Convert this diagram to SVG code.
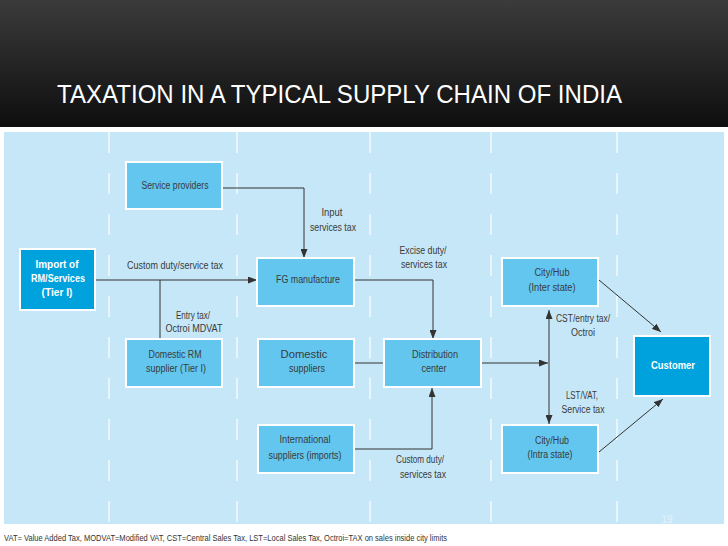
<svg xmlns="http://www.w3.org/2000/svg" width="728" height="546" viewBox="0 0 728 546">
<defs>
<linearGradient id="hdr" x1="0" y1="0" x2="0" y2="1">
<stop offset="0" stop-color="#3b3b3b"/>
<stop offset="1" stop-color="#0e0e0e"/>
</linearGradient>
<marker id="ah" markerUnits="userSpaceOnUse" markerWidth="9" markerHeight="7" refX="9" refY="3.5" orient="auto-start-reverse">
<path d="M0,0 L9,3.5 L0,7 z" fill="#333"/>
</marker>
<style>
.box{fill:#62c6ef;stroke:#fff;stroke-width:2}
.dbox{fill:#00a2de;stroke:#fff;stroke-width:2}
.t{font-family:"Liberation Sans",Arial,sans-serif;font-size:10px;fill:#3a3a3a;text-anchor:middle}
.w{font-family:"Liberation Sans",Arial,sans-serif;font-size:11px;font-weight:bold;fill:#fff;text-anchor:middle}
.c{fill:none;stroke:#333;stroke-width:1}
.a{marker-end:url(#ah)}
.dash{stroke:#fff;stroke-width:1.2;stroke-dasharray:21 20}
</style>
</defs>
<rect x="0" y="0" width="728" height="546" fill="#fff"/>
<rect x="0" y="0" width="728" height="127" fill="url(#hdr)"/>
<text x="57" y="103" font-family="Liberation Sans,Arial,sans-serif" font-size="26" fill="#fff" textLength="565" lengthAdjust="spacingAndGlyphs">TAXATION IN A TYPICAL SUPPLY CHAIN OF INDIA</text>
<rect x="4" y="132" width="720" height="392" fill="#c6e7f8"/>
<g id="gridlines">
<line class="dash" x1="109" y1="132" x2="109" y2="524"/>
<line class="dash" x1="237" y1="132" x2="237" y2="524"/>
<line class="dash" x1="370" y1="132" x2="370" y2="524"/>
<line class="dash" x1="491" y1="132" x2="491" y2="524"/>
<line class="dash" x1="617" y1="132" x2="617" y2="524"/>
</g>
<g id="connectors">
<path class="c a" d="M222,188 H304 V258"/>
<path class="c a" d="M95,280 H257"/>
<path class="c" d="M160,280 V339"/>
<path class="c a" d="M354,280 H433 V339"/>
<path class="c" d="M354,363 H384"/>
<path class="c a" d="M354,449 H432 V388"/>
<path class="c a" d="M481,363 H548"/>
<path class="c a" d="M549,310 V424" style="marker-start:url(#ah)"/>
<path class="c a" d="M599,280 L661,332"/>
<path class="c a" d="M599,452 L663,399"/>
<text class="t" x="332" y="216" textLength="21" lengthAdjust="spacingAndGlyphs">Input</text>
<text class="t" x="333" y="231" textLength="46" lengthAdjust="spacingAndGlyphs">services tax</text>
<text class="t" x="175" y="269" textLength="96" lengthAdjust="spacingAndGlyphs">Custom duty/service tax</text>
<text class="t" x="193" y="319" textLength="34" lengthAdjust="spacingAndGlyphs">Entry tax/</text>
<text class="t" x="194" y="332" textLength="57" lengthAdjust="spacingAndGlyphs">Octroi MDVAT</text>
<text class="t" x="423" y="254" textLength="47" lengthAdjust="spacingAndGlyphs">Excise duty/</text>
<text class="t" x="424" y="268" textLength="46" lengthAdjust="spacingAndGlyphs">services tax</text>
<text class="t" x="420" y="463" textLength="48" lengthAdjust="spacingAndGlyphs">Custom duty/</text>
<text class="t" x="423" y="478" textLength="46" lengthAdjust="spacingAndGlyphs">services tax</text>
<text class="t" x="583" y="322" textLength="54" lengthAdjust="spacingAndGlyphs">CST/entry tax/</text>
<text class="t" x="583" y="336" textLength="24" lengthAdjust="spacingAndGlyphs">Octroi</text>
<text class="t" x="582" y="399" textLength="32" lengthAdjust="spacingAndGlyphs">LST/VAT,</text>
<text class="t" x="583" y="413" textLength="43" lengthAdjust="spacingAndGlyphs">Service tax</text>
</g>
<g id="service-providers">
<rect class="box" x="126" y="162" width="96" height="47"/>
<text class="t" x="175" y="189" textLength="67" lengthAdjust="spacingAndGlyphs">Service providers</text>
</g>
<g id="import-rm">
<rect class="dbox" x="20" y="249" width="75" height="61"/>
<text class="w" x="57" y="268" textLength="43" lengthAdjust="spacingAndGlyphs">Import of</text>
<text class="w" x="58" y="282" textLength="54" lengthAdjust="spacingAndGlyphs">RM/Services</text>
<text class="w" x="57" y="296" textLength="31" lengthAdjust="spacingAndGlyphs">(Tier I)</text>
</g>
<g id="domestic-rm">
<rect class="box" x="126" y="339" width="96" height="48"/>
<text class="t" x="175" y="358" textLength="53" lengthAdjust="spacingAndGlyphs">Domestic RM</text>
<text class="t" x="176" y="372" textLength="60" lengthAdjust="spacingAndGlyphs">supplier (Tier I)</text>
</g>
<g id="fg-manufacture">
<rect class="box" x="257" y="258" width="97" height="48"/>
<text class="t" x="308" y="283" textLength="64" lengthAdjust="spacingAndGlyphs">FG manufacture</text>
</g>
<g id="domestic-suppliers">
<rect class="box" x="258" y="339" width="96" height="48"/>
<text class="t" x="304" y="358" textLength="47" lengthAdjust="spacingAndGlyphs">Domestic</text>
<text class="t" x="307" y="372" textLength="36" lengthAdjust="spacingAndGlyphs">suppliers</text>
</g>
<g id="distribution-center">
<rect class="box" x="384" y="339" width="97" height="48"/>
<text class="t" x="435" y="358" textLength="46" lengthAdjust="spacingAndGlyphs">Distribution</text>
<text class="t" x="434" y="372" textLength="25" lengthAdjust="spacingAndGlyphs">center</text>
</g>
<g id="international-suppliers">
<rect class="box" x="258" y="425" width="96" height="48"/>
<text class="t" x="305" y="443" textLength="51" lengthAdjust="spacingAndGlyphs">International</text>
<text class="t" x="305" y="459" textLength="73" lengthAdjust="spacingAndGlyphs">suppliers (imports)</text>
</g>
<g id="city-hub-inter">
<rect class="box" x="502" y="258" width="96" height="48"/>
<text class="t" x="552" y="276" textLength="35" lengthAdjust="spacingAndGlyphs">City/Hub</text>
<text class="t" x="552" y="291" textLength="47" lengthAdjust="spacingAndGlyphs">(Inter state)</text>
</g>
<g id="city-hub-intra">
<rect class="box" x="502" y="425" width="96" height="48"/>
<text class="t" x="552" y="444" textLength="34" lengthAdjust="spacingAndGlyphs">City/Hub</text>
<text class="t" x="550" y="458" textLength="45" lengthAdjust="spacingAndGlyphs">(Intra state)</text>
</g>
<g id="customer">
<rect class="dbox" x="634" y="336" width="76" height="60"/>
<text class="w" x="673" y="369" textLength="44" lengthAdjust="spacingAndGlyphs">Customer</text>
</g>
<text x="667" y="523" font-family="Liberation Sans,Arial,sans-serif" font-size="10" fill="#e4f3fb" text-anchor="middle">19</text>
<text x="4" y="541" font-family="Liberation Sans,Arial,sans-serif" font-size="9" fill="#333" textLength="443" lengthAdjust="spacingAndGlyphs">VAT= Value Added Tax, MODVAT=Modified VAT, CST=Central Sales Tax, LST=Local Sales Tax, Octroi=TAX on sales inside city limits</text>
</svg>
